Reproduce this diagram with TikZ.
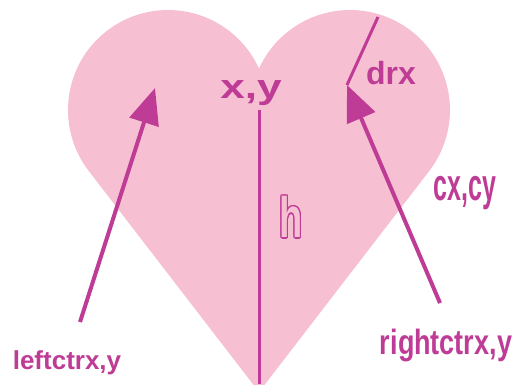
\documentclass[tikz,border=0pt]{standalone}
\usepackage{fontspec}
\setmainfont{Liberation Sans}
\usetikzlibrary{arrows.meta,calc}
\definecolor{heartpink}{RGB}{246,192,210}
\definecolor{ink}{RGB}{190,60,150}
\tikzset{
  lbl/.style={text=ink,font=\bfseries,inner sep=0pt},
  pointer/.style={draw=ink,line width=4pt,-{Triangle[length=36pt,width=30pt]}},
  rule/.style={draw=ink,line width=3pt},
}
\begin{document}
\begin{tikzpicture}[x=1pt,y=1pt]
	\useasboundingbox (0,0) rectangle (518,384);
	% heart: two lobes and the tip below the page
	\begin{scope}
		\clip (0,0) rectangle (518,384);
		\fill[heartpink] (259,-8) -- ($(168,274)+(217.6:100)$)
			arc[start angle=217.6,end angle=24.5,radius=100]
			arc[start angle=155.5,end angle=-37.6,radius=100] -- cycle;
	\end{scope}
	\coordinate (xy) at (259,274);
	\coordinate (tip) at (259,0);
	\coordinate (leftctr) at (155,296);
	\coordinate (leftfoot) at (80,62);
	\coordinate (rightctr) at (347,299);
	\coordinate (rightfoot) at (440,81);
	\coordinate (rimtop) at (378,367);
	\draw[rule] (xy) -- (tip);
	\draw[rule] (rimtop) -- (rightctr);
	\draw[pointer] (leftfoot) -- (leftctr);
	\draw[pointer] (rightfoot) -- (rightctr);
	\node[lbl] (xylbl) at (251,291) {\fontsize{34}{34}\selectfont\scalebox{1.3}[1]{x,y}};
	\node[lbl] (drxlbl) at (391,311) {\fontsize{32}{32}\selectfont drx};
	\node[lbl] (clbl) at (465,191) {\fontsize{25}{25}\selectfont\scalebox{1}[1.8]{cx,cy}};
	\node[lbl] (leftlbl) at (67,21) {\fontsize{26}{26}\selectfont leftctrx,y};
	\node[lbl] (rightlbl) at (446,39) {\fontsize{27}{27}\selectfont\scalebox{1}[1.3]{rightctrx,y}};
	% hollow h
	\foreach \a in {0,30,...,330}
		\node[lbl] at ($(291,167)+(\a:1.4)$) {\fontsize{38}{38}\selectfont\scalebox{1}[1.5]{h}};
	\node[lbl,text=heartpink] (hlbl) at (291,167) {\fontsize{38}{38}\selectfont\scalebox{1}[1.5]{h}};
\end{tikzpicture}
\end{document}
